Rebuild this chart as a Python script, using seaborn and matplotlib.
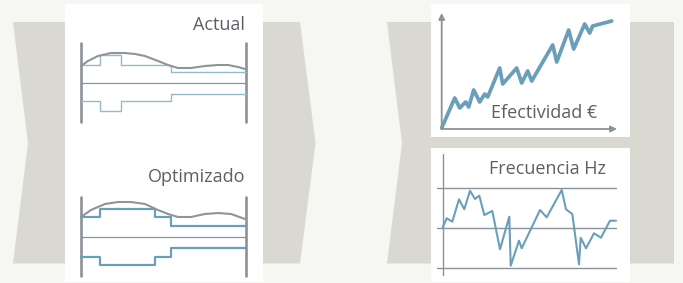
import matplotlib
matplotlib.use("Agg")
import matplotlib.pyplot as plt
from matplotlib.patches import Polygon, Rectangle
import seaborn as sns

sns.set_theme(style="white")
plt.rcParams['font.family'] = ['Open Sans', 'DejaVu Sans']

# ---------------- data ----------------
titles = ["Actual", "Optimizado", "Efectividad €", "Frecuencia Hz"]

# Left diagrams (x along the bar, y above the centre line)
actual_step_x = [0, 18.7, 40, 90, 165]
actual_step_y = [18.3, 28, 18.3, 11]
actual_wave_x = [0, 7, 17, 30, 44, 54, 64, 77, 87, 97, 110, 124, 137, 147, 157, 164]
actual_wave_y = [17, 22, 27, 30, 30, 29, 27, 22, 18, 15, 15, 17, 18, 18, 16, 14]

opt_step_x = [0, 18.7, 73.7, 90, 165]
opt_step_y = [20.3, 28, 20.3, 11]
opt_wave_x = [0, 10, 24, 37, 50, 64, 77, 87, 97, 110, 124, 137, 150, 164]
opt_wave_y = [20, 27, 33, 35, 35, 33, 27, 23, 20, 20, 23, 24, 23, 18]

# Efectividad
eff_x = [0, 13, 18, 24, 27, 32, 38, 43, 46, 58, 61, 75, 80, 86, 90, 111, 115, 127, 132, 143, 148, 151, 170]
eff_y = [0, 30, 20, 26, 21, 38, 26, 34, 31, 60, 44, 60, 45, 57, 47, 83, 66, 98, 79, 104, 95, 102, 107]

# Frecuencia
freq_x = [0, 4, 9.6, 16.3, 21.6, 27.3, 32.3, 36.6, 41.6, 49.6, 57.3, 66.6, 68, 76.3, 79,
          97.3, 104, 119, 123.3, 129.6, 136.3, 138, 143.3, 151.3, 158.3, 167.3, 173.3]
freq_y = [0.7, 9.7, 6.3, 28.7, 18.7, 37.3, 29, 32.3, 13, 17, -21.3, 11.3, -37.7, -12.7, -20.3,
          18, 10.7, 38, 18.7, 14, -36.3, -9.7, -20.3, -5.3, -9.7, 7.3, 7.3]
freq_grid = [40, 0, -40]

# ---------------- style ----------------
BG = "#f6f6f2"
CHEV = "#d9d9d1"
GRAY = "#8b9299"
WAVE = "#8f9497"
BLUE = "#6a9fba"
LBLUE = "#93bace"
TXT = "#5b6067"

W, H = 683, 283
fig = plt.figure(figsize=(W / 100, H / 100), dpi=100, facecolor=BG)

bg = fig.add_axes([0, 0, 1, 1])
bg.set_xlim(0, W)
bg.set_ylim(H, 0)
bg.axis("off")
bg.set_facecolor(BG)

# chevrons
bg.add_patch(Polygon([(13, 22), (300, 22), (315.5, 143), (300, 263.5), (13, 263.5), (28, 143)],
                     closed=True, facecolor=CHEV, edgecolor="none"))
bg.add_patch(Polygon([(387, 22), (674, 22), (674, 263.5), (387, 263.5), (402, 143)],
                     closed=True, facecolor=CHEV, edgecolor="none"))
# white panels
bg.add_patch(Rectangle((65, 4), 198, 278, facecolor="white", edgecolor="none"))
bg.add_patch(Rectangle((431, 4), 199, 133, facecolor="white", edgecolor="none"))
bg.add_patch(Rectangle((431, 148), 199, 134, facecolor="white", edgecolor="none"))

fs = 13
bg.text(245, 30, titles[0], ha="right", va="baseline", fontsize=fs, color=TXT)
bg.text(245, 181.5, titles[1], ha="right", va="baseline", fontsize=fs, color=TXT)
bg.text(597, 117.5, titles[2], ha="right", va="baseline", fontsize=fs, color=TXT)
bg.text(606, 174, titles[3], ha="right", va="baseline", fontsize=fs, color=TXT)


def px_axes(x0, y0, x1, y1):
    a = fig.add_axes([x0 / W, 1 - y1 / H, (x1 - x0) / W, (y1 - y0) / H])
    a.patch.set_alpha(0)
    a.axis("off")
    return a


def diagram(ax, sx, sy, wx, wy, step_color, step_lw):
    ax.set_xlim(0, 165)
    ax.set_ylim(-39, 40)
    ax.axvline(0, color=GRAY, lw=1.9, clip_on=False)
    ax.axvline(165, color=GRAY, lw=1.9, clip_on=False)
    ax.axhline(0, color=GRAY, lw=0.9, clip_on=False)
    yy = list(sy) + [sy[-1]]
    ax.step(sx, yy, where="post", color=step_color, lw=step_lw, clip_on=False)
    ax.step(sx, [-v for v in yy], where="post", color=step_color, lw=step_lw, clip_on=False)
    sns.lineplot(x=wx, y=wy, ax=ax, color=WAVE, lw=1.5, clip_on=False)
    ax.axis("off")


ax1 = px_axes(81, 43, 246, 122)
diagram(ax1, actual_step_x, actual_step_y, actual_wave_x, actual_wave_y, LBLUE, 1.0)
ax2 = px_axes(81, 197, 246, 276)
diagram(ax2, opt_step_x, opt_step_y, opt_wave_x, opt_wave_y, BLUE, 1.6)

# Efectividad
ax3 = px_axes(441.7, 13, 617, 129)
ax3.set_xlim(0, 175.3)
ax3.set_ylim(-1, 115)
ax3.annotate("", xy=(0, 1), xytext=(0, 0), xycoords="axes fraction",
             arrowprops=dict(arrowstyle="-|>", color=GRAY, lw=1.3, mutation_scale=9, shrinkA=0, shrinkB=0))
ax3.annotate("", xy=(1, 0), xytext=(0, 0), xycoords="axes fraction",
             arrowprops=dict(arrowstyle="-|>", color=GRAY, lw=1.3, mutation_scale=9, shrinkA=0, shrinkB=0))
sns.lineplot(x=eff_x, y=eff_y, ax=ax3, color=BLUE, lw=2.7, clip_on=False)
ax3.axis("off")

# Frecuencia
ax4 = px_axes(436.7, 154, 616.7, 276)
ax4.set_xlim(-6, 174)
ax4.set_ylim(-48, 74)
for g in freq_grid:
    ax4.axhline(g, color=GRAY, lw=1.0)
ax4.axvline(0, color=GRAY, lw=1.0)
sns.lineplot(x=freq_x, y=freq_y, ax=ax4, color=BLUE, lw=1.5, clip_on=False)
ax4.axis("off")

fig.savefig("out.png", dpi=100, facecolor=BG)
